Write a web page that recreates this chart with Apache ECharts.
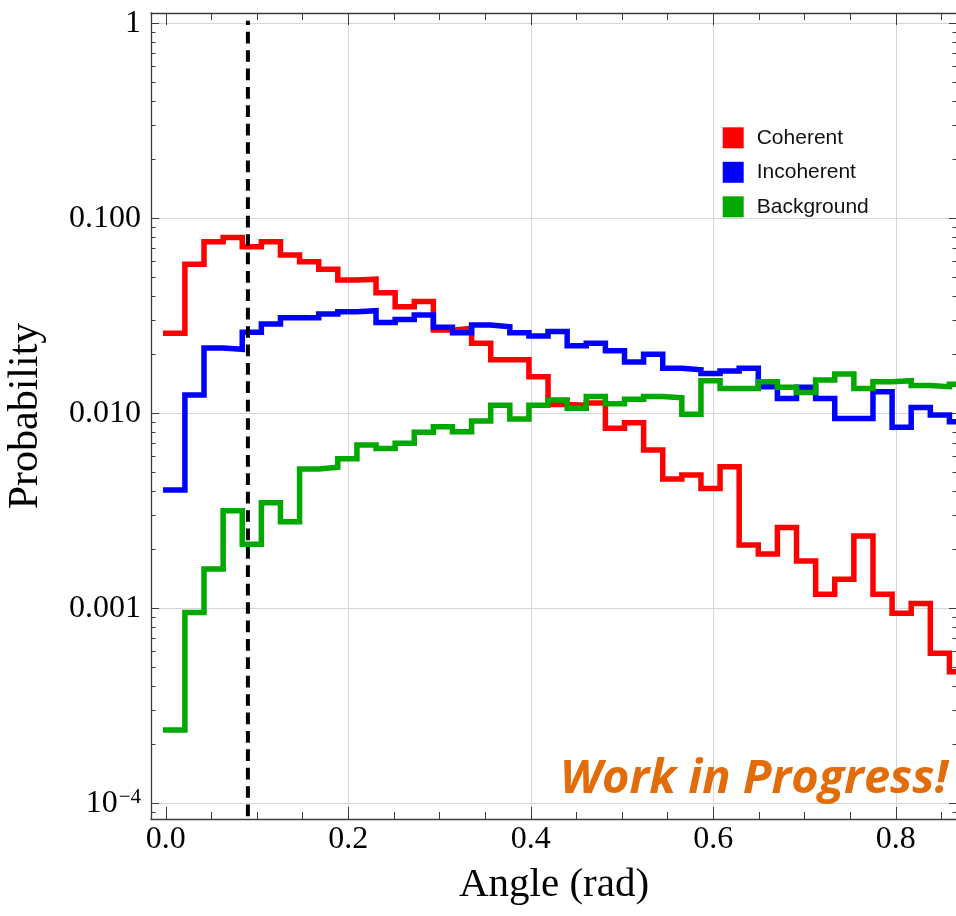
<!DOCTYPE html>
<html>
<head>
<meta charset="utf-8">
<script src="https://cdn.jsdelivr.net/npm/echarts@6/dist/echarts.min.js"></script>
<style>
  html, body { margin: 0; padding: 0; background: #ffffff; }
  #chart { width: 956px; height: 916px; }
</style>
</head>
<body>
<div id="chart"></div>
<script>
// Histogram bins: 1.2 degree wide, starting at 0 rad
const binWidth = Math.PI / 150;

const seriesNames = ['Coherent', 'Incoherent', 'Background'];
const seriesColors = ['#ff0000', '#0000ff', '#00a800'];

// Probability per bin
const coherent = [
  0.0257, 0.0581, 0.0759, 0.0796, 0.0715, 0.0759, 0.0648, 0.0599, 0.0548, 0.0483,
  0.0487, 0.0415, 0.0352, 0.0374, 0.0267, 0.0273, 0.0229, 0.0188, 0.0188, 0.0154,
  0.0111, 0.0110, 0.0113, 0.00838, 0.00895, 0.00648, 0.0046, 0.00483, 0.00412, 0.00532,
  0.00211, 0.0019, 0.0026, 0.00175, 0.00118, 0.00141, 0.00235, 0.00118, 0.000942, 0.00106,
  0.000588, 0.000473
];
const incoherent = [
  0.00404, 0.0124, 0.0216, 0.0213, 0.0260, 0.0287, 0.0309, 0.0309, 0.0323, 0.0332,
  0.0336, 0.0292, 0.0303, 0.0319, 0.0276, 0.0259, 0.0284, 0.0278, 0.0259, 0.0249,
  0.0263, 0.0222, 0.0229, 0.0209, 0.0183, 0.0201, 0.0170, 0.0167, 0.0160, 0.0165,
  0.0170, 0.0137, 0.0119, 0.0136, 0.0119, 0.0094, 0.0094, 0.0129, 0.00848, 0.0107,
  0.0098, 0.00906
];
const background = [
  0.000238, 0.000953, 0.00159, 0.00316, 0.00213, 0.00348, 0.00278, 0.00518, 0.00529, 0.00585,
  0.00687, 0.0066, 0.00702, 0.00799, 0.00854, 0.00805, 0.00914, 0.0110, 0.00935, 0.0110,
  0.0117, 0.0106, 0.0122, 0.0112, 0.0118, 0.0122, 0.0120, 0.0099, 0.0147, 0.0134,
  0.0134, 0.0145, 0.0136, 0.0128, 0.0148, 0.0159, 0.0134, 0.0145, 0.0147, 0.0139,
  0.0137, 0.0141
];

// Angular cut shown as a dashed vertical line
const cutoffAngle = 0.09;
const cutoffSpan = [1.03, 8e-5];

// Axis ranges and ticks
const xMin = -0.0162, xMax = 0.867;
const yMin = 8.31e-5, yMax = 1.129;
const xMajorTicks = [0, 0.2, 0.4, 0.6, 0.8];
const xMinorTicks = [0.05, 0.1, 0.15, 0.25, 0.3, 0.35, 0.45, 0.5, 0.55, 0.65, 0.7, 0.75, 0.85];
const xGridValues = [0.2, 0.4, 0.6, 0.8];
const yMajorTicks = [1e-4, 1e-3, 1e-2, 1e-1, 1];
const yMinorTicks = [];
for (let e = -5; e <= 0; e++) {
  for (let m = 2; m <= 9; m++) {
    const v = m * Math.pow(10, e);
    if (v > yMin && v < yMax) yMinorTicks.push(v);
  }
}

const frameColor = '#3c3c3c';
const gridColor = '#d6d6d6';
const serif = '"Liberation Serif", "Times New Roman", serif';

// Step line: one point at each bin's left edge plus a closing point
function histogramPoints(values) {
  const pts = values.map((v, k) => [k * binWidth, v]);
  pts.push([values.length * binWidth, values[values.length - 1]]);
  return pts;
}

function xAxisOf(position, opts) {
  return Object.assign({
    type: 'value', gridIndex: 0, position: position, min: xMin, max: xMax,
    axisLine: { show: false, onZero: false },
    axisTick: { show: false },
    axisLabel: { show: false },
    splitLine: { show: false }
  }, opts);
}
function yAxisOf(position, opts) {
  return Object.assign({
    type: 'log', logBase: 10, gridIndex: 0, position: position, min: yMin, max: yMax,
    axisLine: { show: false, onZero: false },
    axisTick: { show: false },
    axisLabel: { show: false },
    splitLine: { show: false }
  }, opts);
}

function yLabel(v) {
  const e = Math.round(Math.log10(v));
  if (e === 0) return '1';
  if (e === -4) return '{b|10}{s|\u22124}';
  return (Math.pow(10, e)).toFixed(3);
}

const chart = echarts.init(document.getElementById('chart'), null, { renderer: 'canvas' });

const lineSeries = [coherent, incoherent, background].map((vals, i) => ({
  type: 'line',
  name: seriesNames[i],
  data: histogramPoints(vals),
  step: 'end',
  showSymbol: false,
  symbol: 'none',
  clip: true,
  z: 2 + i,
  lineStyle: { color: seriesColors[i], width: 5.5, cap: 'square', join: 'miter' },
  itemStyle: { color: seriesColors[i] },
  emphasis: { disabled: true }
}));

lineSeries.push({
  type: 'line',
  name: 'cut',
  data: cutoffSpan.map(v => [cutoffAngle, v]),
  showSymbol: false,
  symbol: 'none',
  clip: true,
  z: 10,
  lineStyle: { color: '#000000', width: 4, type: [11.7, 6.7], dashOffset: 7.4 },
  emphasis: { disabled: true },
  silent: true
});

chart.setOption({
  animation: false,
  backgroundColor: '#ffffff',
  grid: { left: 151, top: 13, width: 806, height: 806, outerBoundsMode: 'none', containLabel: false, show: false },
  legend: {
    data: seriesNames,
    orient: 'vertical',
    left: 722.7, top: 127.3,
    padding: 0,
    itemWidth: 21, itemHeight: 21, itemGap: 13.5,
    icon: 'rect',
    selectedMode: false,
    itemStyle: { borderWidth: 0 },
    textStyle: { fontFamily: '"Liberation Sans", Arial, sans-serif', fontSize: 21, color: '#111111', padding: [0, 0, 0, 8] }
  },
  xAxis: [
    // bottom: labels, major ticks and frame line
    xAxisOf('bottom', {
      name: 'Angle (rad)', nameLocation: 'middle', nameGap: 46,
      nameTextStyle: { fontFamily: serif, fontSize: 41, color: '#000000' },
      axisLine: { show: true, onZero: false, lineStyle: { color: frameColor, width: 1.3 } },
      axisTick: { show: true, inside: true, length: 12, customValues: xMajorTicks, lineStyle: { color: frameColor, width: 1 } },
      axisLabel: { show: true, customValues: xMajorTicks, margin: 5, fontFamily: serif, fontSize: 32, color: '#000000', formatter: v => v.toFixed(1) }
    }),
    xAxisOf('bottom', { axisTick: { show: true, inside: true, length: 7, customValues: xMinorTicks, lineStyle: { color: frameColor, width: 1 } } }),
    // top mirror
    xAxisOf('top', {
      axisLine: { show: true, onZero: false, lineStyle: { color: frameColor, width: 1.3 } },
      axisTick: { show: true, inside: true, length: 12, customValues: xMajorTicks, lineStyle: { color: frameColor, width: 1 } }
    }),
    xAxisOf('top', { axisTick: { show: true, inside: true, length: 7, customValues: xMinorTicks, lineStyle: { color: frameColor, width: 1 } } }),
    // vertical grid lines
    xAxisOf('bottom', {
      axisTick: { show: false, customValues: xGridValues },
      splitLine: { show: true, customValues: xGridValues, lineStyle: { color: gridColor, width: 1 } }
    })
  ],
  yAxis: [
    yAxisOf('left', {
      name: 'Probability', nameLocation: 'middle', nameGap: 104, nameRotate: 90,
      nameTextStyle: { fontFamily: serif, fontSize: 42, color: '#000000' },
      axisLine: { show: true, onZero: false, lineStyle: { color: frameColor, width: 1.3 } },
      axisTick: { show: true, inside: true, length: 8, customValues: yMajorTicks, lineStyle: { color: frameColor, width: 1 } },
      axisLabel: {
        show: true, customValues: yMajorTicks, margin: 10, fontFamily: serif, fontSize: 32, color: '#000000',
        formatter: yLabel,
        rich: {
          b: { fontFamily: serif, fontSize: 32, color: '#000000', lineHeight: 32 },
          s: { fontFamily: serif, fontSize: 21, color: '#000000', verticalAlign: 'top', lineHeight: 32, padding: [0, 0, 12, 1] }
        }
      },
      splitLine: { show: true, customValues: yMajorTicks, lineStyle: { color: gridColor, width: 1 } }
    }),
    yAxisOf('left', { axisTick: { show: true, inside: true, length: 4.5, customValues: yMinorTicks, lineStyle: { color: frameColor, width: 1 } } }),
    yAxisOf('right', {
      axisLine: { show: true, onZero: false, lineStyle: { color: frameColor, width: 1.3 } },
      axisTick: { show: true, inside: true, length: 8, customValues: yMajorTicks, lineStyle: { color: frameColor, width: 1 } }
    }),
    yAxisOf('right', { axisTick: { show: true, inside: true, length: 4.5, customValues: yMinorTicks, lineStyle: { color: frameColor, width: 1 } } })
  ],
  graphic: [{
    type: 'text',
    right: 8, top: 756,
    z: 100,
    style: {
      text: 'Work in Progress!',
      fontFamily: '"Open Sans", sans-serif',
      fontSize: 47, fontWeight: 'bold', fontStyle: 'italic',
      fill: '#e36c0a'
    }
  }],
  series: lineSeries
});
</script>
</body>
</html>
